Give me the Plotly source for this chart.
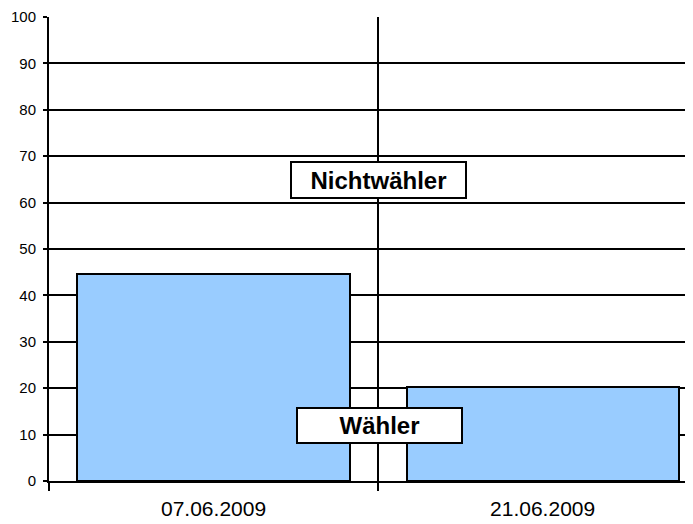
import plotly.graph_objects as go

dates = ["07.06.2009", "21.06.2009"]
waehler = [44.6, 20.3]
y_ticks = [0, 10, 20, 30, 40, 50, 60, 70, 80, 90, 100]
labels = ["Nichtwähler", "Wähler"]
label_x = [0.5, 0.505]
label_y = [64.8, 11.9]

fig = go.Figure()
fig.add_trace(go.Bar(x=dates, y=waehler, width=0.827,
                     marker=dict(color="#99ccff", line=dict(color="black", width=2))))

# boxed labels over the chart
for txt, lx, ly, w, h in zip(labels, label_x, label_y, [171, 161], [32, 31]):
    fig.add_annotation(x=lx, y=ly, xref="x", yref="y", text="<b>" + txt + "</b>",
                       showarrow=False, font=dict(family="Arial", size=24, color="black"),
                       bgcolor="white", bordercolor="black", borderwidth=2,
                       width=w, height=h, borderpad=1)

# page body has an 8px margin, so size/margins are shifted to compensate
fig.update_layout(
    width=685, height=516,
    margin=dict(l=41, r=0, t=9, b=43),
    plot_bgcolor="white", paper_bgcolor="white",
    showlegend=False, bargap=0,
    font=dict(family="Arial", color="black"),
)
fig.update_xaxes(type="category", range=[-0.5, 1.457], tickson="boundaries",
                 showgrid=True, gridcolor="black", gridwidth=2,
                 showline=True, linecolor="black", linewidth=2,
                 ticks="outside", ticklen=8, tickwidth=1.5, tickcolor="black",
                 tickfont=dict(size=21), ticklabelstandoff=8, automargin=False,
                 zeroline=False)
fig.update_yaxes(range=[0, 100], tickvals=y_ticks,
                 showgrid=True, gridcolor="black", gridwidth=2,
                 showline=True, linecolor="black", linewidth=2,
                 ticks="outside", ticklen=4, tickwidth=2, tickcolor="black",
                 tickfont=dict(size=15), ticklabelstandoff=4, automargin=False,
                 zeroline=False)

fig.write_html("out.html")
